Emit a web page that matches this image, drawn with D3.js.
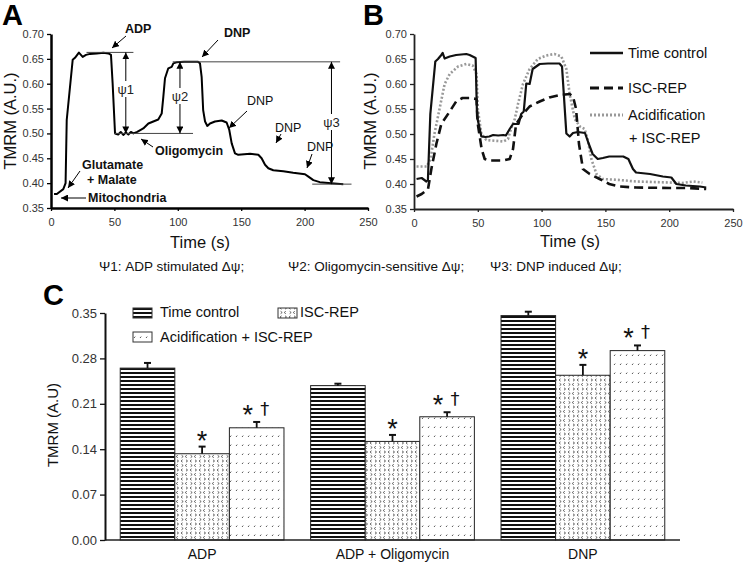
<!DOCTYPE html>
<html><head><meta charset="utf-8">
<script src="https://cdn.jsdelivr.net/npm/d3@7"></script>
<style>body{margin:0;background:#fff} svg{display:block;font-family:"Liberation Sans",Arial,sans-serif}</style>
</head><body><svg id="c" width="743" height="562"></svg>
<script>
// ---------- DATA ----------
// Panel A trace (time control, single recording)
const tA = [2.4,4.6,9.7,11.5,12.4,17.1,18.9,22,25,27.6,30.8,36,41.3,45.3,47.3,48.6,50.5,53,55,57,59,61,63,65,68,72.8,76.8,80.7,84.6,87.3,88.6,89.9,91.2,92.5,95.2,96.5,99,105,110,116,117.5,118.8,120,121.5,123.3,125.4,129.3,134.6,138.5,140.6,142.5,145.1,147.7,157,163.5,166.1,168.8,171.4,175.3,183.2,191,200.3,203,206.9,212,221,230.5];
const vA = [0.378,0.378,0.388,0.40,0.527,0.648,0.652,0.6625,0.654,0.658,0.66,0.661,0.6625,0.661,0.658,0.601,0.50,0.498,0.503,0.497,0.502,0.498,0.503,0.50,0.503,0.51,0.52,0.524,0.528,0.54,0.574,0.611,0.621,0.631,0.634,0.641,0.643,0.644,0.644,0.644,0.641,0.614,0.547,0.524,0.515,0.52,0.524,0.526,0.522,0.507,0.48,0.46,0.457,0.459,0.457,0.45,0.437,0.43,0.426,0.424,0.421,0.418,0.413,0.406,0.402,0.40,0.398];

// Panel B traces
const tTC = [2,6,9.7,10.9,12.8,16.7,18.8,21.4,22.5,24,28,33,41,43.6,48.3,49.4,52.8,56,59,62,66,70,72,75,77.6,80,82,84,86,88,90.6,93,98.5,105,114,116,119.4,122,124.6,128.5,134,137,140,144,148,153,164,168,171.6,174,185,195,201.7,205.6,213,224,229];
const vTC = [0.41,0.412,0.405,0.408,0.54,0.645,0.65,0.658,0.662,0.651,0.655,0.658,0.66,0.658,0.652,0.535,0.495,0.494,0.495,0.498,0.497,0.498,0.497,0.51,0.52,0.52,0.52,0.54,0.545,0.601,0.60,0.63,0.64,0.641,0.641,0.635,0.501,0.495,0.502,0.504,0.502,0.48,0.46,0.45,0.452,0.455,0.455,0.45,0.43,0.423,0.42,0.415,0.413,0.40,0.397,0.395,0.393];
const tISC = [2,6,11,13.6,17.5,21.4,28,33,38,43.6,49,50,53,55.4,59,70,75,77.6,80,85.4,90.6,98.5,106,114,122,124.6,127,129.3,132.4,137.7,145.5,153,161,174,200,215,229];
const vISC = [0.375,0.38,0.39,0.43,0.48,0.52,0.545,0.565,0.572,0.572,0.57,0.52,0.47,0.45,0.447,0.447,0.45,0.47,0.52,0.54,0.555,0.565,0.573,0.578,0.58,0.575,0.55,0.48,0.43,0.42,0.41,0.40,0.395,0.393,0.392,0.392,0.39];
const tACI = [2,10,13,16,20,24,28,34.5,41,46,49,50,52.8,56.7,70,73.7,76,79,81.5,85.4,90.6,97,103.7,110,115.5,119.4,122,126,130,133.7,136,139,143,148,161,174,200,210,218.7,226];
const vACI = [0.435,0.435,0.45,0.5,0.55,0.6,0.62,0.635,0.64,0.637,0.62,0.55,0.50,0.488,0.485,0.49,0.51,0.53,0.56,0.60,0.63,0.65,0.657,0.66,0.655,0.63,0.58,0.53,0.515,0.51,0.49,0.45,0.42,0.41,0.408,0.405,0.403,0.402,0.405,0.403];
const seriesB = ["Time control","ISC-REP","Acidification"];

// Axis ticks
const yTicksAB = [0.35,0.40,0.45,0.50,0.55,0.60,0.65,0.70];
const xTicksAB = [0,50,100,150,200,250];
const yTicksC = [0,0.07,0.14,0.21,0.28,0.35];

// Panel C bars
const categories = ["ADP","ADP + Oligomycin","DNP"];
const seriesC = ["Time control","ISC-REP","Acidification + ISC-REP"];
const tcVal = [0.265,0.238,0.346], tcErr = [0.008,0.003,0.006];
const iscVal = [0.133,0.152,0.254], iscErr = [0.011,0.010,0.016];
const aciVal = [0.173,0.190,0.292], aciErr = [0.009,0.007,0.008];
const sigMarks = [null, "*", "*†"];

// ---------- DRAW ----------
const svg = d3.select("#c");
const defs = svg.append("defs");
defs.append("marker").attr("id","ah").attr("viewBox","0 0 10 10").attr("refX",10).attr("refY",5)
  .attr("markerWidth",7).attr("markerHeight",7).attr("markerUnits","userSpaceOnUse").attr("orient","auto-start-reverse")
  .append("path").attr("d","M0,0 L10,5 L0,10 Z").attr("fill","#000");
const pS = defs.append("pattern").attr("id","pStripe").attr("patternUnits","userSpaceOnUse").attr("width",6).attr("height",4);
pS.append("rect").attr("width",6).attr("height",4).attr("fill","#fff");
pS.append("rect").attr("width",6).attr("height",2).attr("fill","#111");
const pC = defs.append("pattern").attr("id","pChev").attr("patternUnits","userSpaceOnUse").attr("width",9).attr("height",9);
pC.append("rect").attr("width",9).attr("height",9).attr("fill","#fff");
pC.append("path").attr("d","M2.6,0.8 L1,2 L2.6,3.2 M6,0.8 L7.6,2 L6,3.2 M6.8,5.3 L5.2,6.5 L6.8,7.7 M1.6,5.3 L3.2,6.5 L1.6,7.7")
  .attr("fill","none").attr("stroke","#555").attr("stroke-width",0.9);
const pA = defs.append("pattern").attr("id","pAcid").attr("patternUnits","userSpaceOnUse").attr("width",6).attr("height",9);
pA.append("rect").attr("width",6).attr("height",9).attr("fill","#fff");
pA.append("path").attr("d","M2,5 L3.2,3.6").attr("stroke","#555").attr("stroke-width",1);
const fills = ["url(#pStripe)","url(#pChev)","url(#pAcid)"];

function styleAxis(g, w, col, fs, tcol){
  g.select(".domain").attr("stroke",col).attr("stroke-width",w);
  g.selectAll(".tick line").attr("stroke",col).attr("stroke-width",1.3);
  g.selectAll(".tick text").attr("fill",tcol).style("font-size",fs+"px").style("font-family","Liberation Sans, Arial, sans-serif");
}

// Panel A
const xA = d3.scaleLinear().domain([0,250]).range([51,368]);
const yA = d3.scaleLinear().domain([0.35,0.70]).range([208,34]);
const gAx = svg.append("g").attr("transform","translate(0,208)")
  .call(d3.axisBottom(xA).tickValues(xTicksAB).tickSize(3).tickSizeOuter(0).tickPadding(7));
styleAxis(gAx,2.5,"#000",11,"#333");
const gAy = svg.append("g").attr("transform","translate(51,0)")
  .call(d3.axisLeft(yA).tickValues(yTicksAB).tickFormat(d3.format(".2f")).tickSize(4).tickSizeOuter(0).tickPadding(3));
styleAxis(gAy,2.5,"#000",11,"#333");
const lineA = d3.line().x(d=>xA(d[0])).y(d=>yA(d[1]));
svg.append("path").datum(d3.zip(tA,vA)).attr("d",lineA).attr("fill","none").attr("stroke","#000").attr("stroke-width",2).attr("stroke-linejoin","round");

const refs = [[28,65,0.663],[50,112,0.50],[96,228,0.644],[206,237,0.398]];
refs.forEach(r=>svg.append("line").attr("x1",xA(r[0])).attr("x2",xA(r[1])).attr("y1",yA(r[2])).attr("y2",yA(r[2])).attr("stroke","#444").attr("stroke-width",1));
const psis = [["ψ1",59,0.663,0.50,90],["ψ2",101.7,0.644,0.50,97],["ψ3",221.2,0.644,0.398,123]];
psis.forEach(p=>{
  svg.append("line").attr("x1",xA(p[1])).attr("x2",xA(p[1])).attr("y1",yA(p[2])).attr("y2",yA(p[3]))
    .attr("stroke","#000").attr("stroke-width",1).attr("marker-start","url(#ah)").attr("marker-end","url(#ah)");
  svg.append("rect").attr("x",xA(p[1])-8).attr("y",p[4]-9).attr("width",16).attr("height",16).attr("fill","#fff");
  svg.append("text").attr("x",xA(p[1])).attr("y",p[4]+4).attr("text-anchor","middle").style("font-size","13px").attr("fill","#222").text(p[0]);
});
const ann = [
  ["ADP",125,33,true],["DNP",224,37,true],["DNP",247,105,false],["DNP",275,132,false],["DNP",307,151,false],
  ["Oligomycin",155,155,true],["Glutamate",82,169,true],["+ Malate",87,184,true],["Mitochondria",88,202,true]
];
ann.forEach(a=>svg.append("text").attr("x",a[1]).attr("y",a[2]).style("font-size","12.5px")
  .style("font-weight",a[3]?"bold":"normal").attr("fill","#111").text(a[0]));
const ptr = [[126,36,112,48],[218,40,202,57],[247,111,229,128],[281,134,276,143],[312,154,307,168],[153,147,141,139],[80,171,68,188],[86,198,61,198]];
ptr.forEach(p=>svg.append("line").attr("x1",p[0]).attr("y1",p[1]).attr("x2",p[2]).attr("y2",p[3]).attr("stroke","#000").attr("stroke-width",1).attr("marker-end","url(#ah)"));

svg.append("text").attr("x",200).attr("y",248).attr("text-anchor","middle").style("font-size","16.5px").attr("fill","#111").text("Time (s)");
svg.append("text").attr("transform","translate(16,121) rotate(-90)").attr("text-anchor","middle").style("font-size","16.5px").attr("fill","#111").text("TMRM (A.U.)");
svg.append("text").attr("x",2).attr("y",25).style("font-size","29px").style("font-weight","bold").text("A");

// Panel B
const xB = d3.scaleLinear().domain([0,250]).range([414,733]);
const yB = d3.scaleLinear().domain([0.35,0.70]).range([209,34]);
const gBx = svg.append("g").attr("transform","translate(0,209)")
  .call(d3.axisBottom(xB).tickValues(xTicksAB).tickSize(3).tickSizeOuter(0).tickPadding(7));
styleAxis(gBx,1.8,"#222",11,"#333");
const gBy = svg.append("g").attr("transform","translate(414,0)")
  .call(d3.axisLeft(yB).tickValues(yTicksAB).tickFormat(d3.format(".2f")).tickSize(4).tickSizeOuter(0).tickPadding(3));
styleAxis(gBy,1.8,"#222",11,"#333");
const lineB = d3.line().x(d=>xB(d[0])).y(d=>yB(d[1]));
const stylesB = [{c:"#999",w:2.6,d:"2,2"},{c:"#111",w:2.6,d:"9,5"},{c:"#111",w:2.2,d:null}];
const datB = [d3.zip(tACI,vACI), d3.zip(tISC,vISC), d3.zip(tTC,vTC)];
datB.forEach((d,i)=>{
  const p = svg.append("path").datum(d).attr("d",lineB).attr("fill","none").attr("stroke",stylesB[i].c).attr("stroke-width",stylesB[i].w).attr("stroke-linejoin","round");
  if(stylesB[i].d) p.attr("stroke-dasharray",stylesB[i].d);
});
const legB = [[seriesB[0],53,2],[seriesB[1],88,1],[seriesB[2],115,0]];
legB.forEach(l=>{
  const s = stylesB[l[2]];
  const ln = svg.append("line").attr("x1",590).attr("x2",623).attr("y1",l[1]).attr("y2",l[1]).attr("stroke",s.c).attr("stroke-width",s.w+0.4);
  if(s.d) ln.attr("stroke-dasharray",s.d);
  svg.append("text").attr("x",628).attr("y",l[1]+5).style("font-size","14.5px").attr("fill","#111").text(l[0]);
});
svg.append("text").attr("x",629).attr("y",143).style("font-size","14.5px").attr("fill","#111").text("+ ISC-REP");
svg.append("text").attr("x",570).attr("y",247).attr("text-anchor","middle").style("font-size","16.5px").attr("fill","#111").text("Time (s)");
svg.append("text").attr("transform","translate(376,121) rotate(-90)").attr("text-anchor","middle").style("font-size","16.5px").attr("fill","#111").text("TMRM (A.U.)");
svg.append("text").attr("x",363).attr("y",25).style("font-size","29px").style("font-weight","bold").text("B");

// Caption
[["Ψ1: ADP stimulated Δψ;",99],["Ψ2: Oligomycin-sensitive Δψ;",288],["Ψ3: DNP induced Δψ;",490]].forEach(c=>
  svg.append("text").attr("x",c[1]).attr("y",271).style("font-size","13.5px").attr("fill","#111").text(c[0]));

// Panel C
const xC = d3.scaleBand().domain(categories).range([105,680]).paddingInner(0.14).paddingOuter(0.08);
const yC = d3.scaleLinear().domain([0,0.35]).range([540,313]);
const bw = xC.bandwidth()/3;
const vals = [tcVal,iscVal,aciVal], errs = [tcErr,iscErr,aciErr];
categories.forEach((cat,i)=>{
  vals.forEach((sv,j)=>{
    const x0 = xC(cat)+j*bw, v = sv[i], e = errs[j][i], cx = x0+bw/2;
    svg.append("rect").attr("x",x0).attr("y",yC(v)).attr("width",bw).attr("height",yC(0)-yC(v))
      .attr("fill",fills[j]).attr("stroke","#222").attr("stroke-width",1);
    svg.append("line").attr("x1",cx).attr("x2",cx).attr("y1",yC(v)).attr("y2",yC(v+e)).attr("stroke","#111").attr("stroke-width",1.8);
    svg.append("line").attr("x1",cx-3.5).attr("x2",cx+3.5).attr("y1",yC(v+e)).attr("y2",yC(v+e)).attr("stroke","#111").attr("stroke-width",2);
    const m = sigMarks[j];
    if(m){
      const capY = yC(v+e);
      if(m==="*"){
        svg.append("text").attr("x",cx).attr("y",capY+3).attr("text-anchor","middle").style("font-size","27px").attr("fill","#111").text("*");
      } else {
        svg.append("text").attr("x",cx-9).attr("y",capY+2).attr("text-anchor","middle").style("font-size","27px").attr("fill","#111").text("*");
        svg.append("text").attr("x",cx+8).attr("y",capY-7).attr("text-anchor","middle")
          .style("font-size","18px").style("font-family","DejaVu Sans, sans-serif").attr("fill","#111").text("†");
      }
    }
  });
});
const gCx = svg.append("g").attr("transform","translate(0,540)")
  .call(d3.axisBottom(xC).tickSize(0).tickSizeOuter(0).tickPadding(9));
styleAxis(gCx,1.5,"#222",14,"#111");
gCx.select(".domain").attr("d","M105,0H680");
const gCy = svg.append("g").attr("transform","translate(105,0)")
  .call(d3.axisLeft(yC).tickValues(yTicksC).tickFormat(d3.format(".2f")).tickSize(5).tickSizeOuter(0).tickPadding(3));
styleAxis(gCy,2,"#111",13,"#333");
svg.append("text").attr("transform","translate(58,425) rotate(-90)").attr("text-anchor","middle").style("font-size","15px").attr("fill","#111").text("TMRM (A.U)");
svg.append("text").attr("x",43).attr("y",305).style("font-size","29px").style("font-weight","bold").text("C");
const legC = [[seriesC[0],133,308,0,160,317],[seriesC[1],278,308,1,300,317],[seriesC[2],133,332,2,160,342]];
legC.forEach(l=>{
  svg.append("rect").attr("x",l[1]).attr("y",l[2]).attr("width",19).attr("height",10).attr("fill",fills[l[3]]).attr("stroke","#333").attr("stroke-width",1);
  svg.append("text").attr("x",l[4]).attr("y",l[5]).style("font-size","14.5px").attr("fill","#111").text(l[0]);
});
</script></body></html>
